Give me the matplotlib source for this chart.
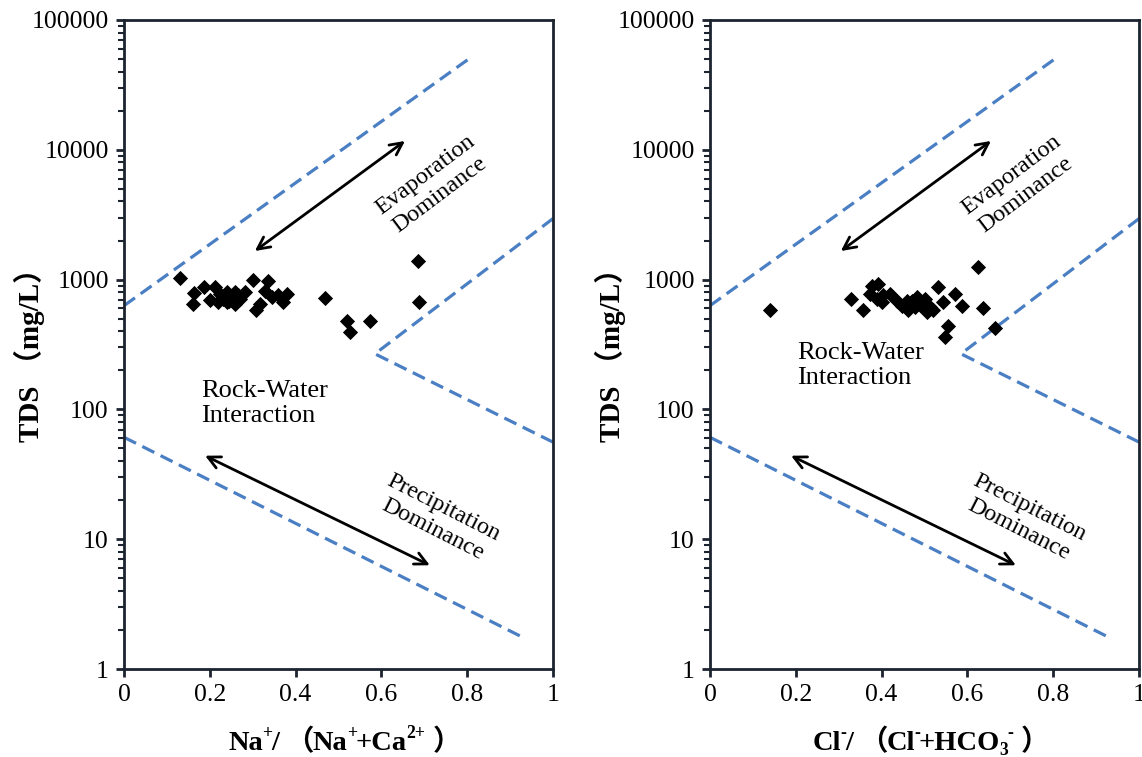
import matplotlib
matplotlib.use("Agg")
import matplotlib.pyplot as plt
from matplotlib.ticker import FixedLocator, LogLocator, NullFormatter, FixedFormatter

# ---- data ----
na_ratio = [0.13, 0.686, 0.688, 0.468, 0.519, 0.573, 0.527, 0.30, 0.336, 0.187,
            0.212, 0.162, 0.16, 0.224, 0.239, 0.259, 0.282, 0.22, 0.239, 0.259,
            0.27, 0.23, 0.329, 0.344, 0.36, 0.379, 0.371, 0.317, 0.308, 0.25,
            0.245, 0.265, 0.2]
na_tds = [1024, 1390, 669, 718, 484, 484, 393, 1000, 970, 870,
          870, 785, 650, 780, 800, 800, 800, 670, 670, 650,
          710, 710, 823, 731, 760, 780, 670, 650, 580, 740,
          690, 760, 700]

cl_ratio = [0.141, 0.328, 0.356, 0.377, 0.392, 0.373, 0.389, 0.404, 0.42, 0.40,
            0.435, 0.447, 0.459, 0.462, 0.482, 0.478, 0.493, 0.501, 0.505, 0.513,
            0.52, 0.532, 0.544, 0.571, 0.587, 0.555, 0.548, 0.625, 0.637, 0.664,
            0.47, 0.49]
cl_tds = [580, 710, 580, 900, 927, 780, 710, 760, 780, 670,
          690, 630, 690, 580, 731, 610, 650, 710, 560, 610,
          580, 870, 670, 780, 630, 443, 360, 1245, 600, 425,
          680, 640]

# Gibbs boundary lines (x, TDS)
upper_left_x = [0.0, 0.807]
upper_left_y = [630, 51000]
right_v_x = [1.0, 0.585, 1.0]
right_v_y = [2950, 268, 56]
lower_x = [0.0, 0.923]
lower_y = [61, 1.8]

evap_arrow = [(0.305, 1660), (0.655, 11700)]
prec_arrow = [(0.189, 44), (0.713, 6.3)]

y_ticks = [1, 10, 100, 1000, 10000, 100000]
y_ticklabels = ["1", "10", "100", "1000", "10000", "100000"]
x_ticks = [0, 0.2, 0.4, 0.6, 0.8, 1]
x_ticklabels = ["0", "0.2", "0.4", "0.6", "0.8", "1"]

# label pieces: (text, kind); "gap" entries are spacing in pixels
left_xlabel = [("Na", "main"), ("+", "sup"), ("/", "main"), (7, "gap"),
               ("（", "cjk"), ("Na", "main"), ("+", "sup"), ("+Ca", "main"),
               ("2+", "sup"), (9, "gap"), ("）", "cjk")]
right_xlabel = [("Cl", "main"), ("-", "sup"), ("/", "main"), (7, "gap"),
                ("（", "cjk"), ("Cl", "main"), ("-", "sup"), ("+HCO", "main"),
                ("3", "sub"), ("-", "sup"), (9, "gap"), ("）", "cjk")]

serif = ["Liberation Serif", "Noto Sans CJK SC", "DejaVu Serif"]
plt.rcParams["font.family"] = serif

fig = plt.figure(figsize=(11.42, 7.57), dpi=100)
ax1 = fig.add_axes([0.1086, 0.1162, 0.3756, 0.8574])
ax2 = fig.add_axes([0.6217, 0.1162, 0.3757, 0.8574])

line_color = "#4a7fc4"
spine_color = "#1c2430"
dash = (0, (4.2, 2.2))


def draw(ax, xs, ys, ylab_x):
    ax.set_yscale("log")
    ax.set_xlim(0, 1)
    ax.set_ylim(1, 100000)
    for lx, ly in [(upper_left_x, upper_left_y), (right_v_x, right_v_y),
                   (lower_x, lower_y)]:
        ax.plot(lx, ly, ls=dash, color=line_color, lw=2.3)
    ax.scatter(xs, ys, marker="D", s=60, color="black", zorder=3, linewidths=0)
    for a in (evap_arrow, prec_arrow):
        ax.annotate("", xy=a[1], xytext=a[0],
                    arrowprops=dict(arrowstyle="<->", color="black", lw=2,
                                    mutation_scale=22, shrinkA=0, shrinkB=0))
    ax.text(0.72, 5380, "Evaporation\nDominance", rotation=37, ha="center",
            va="center", fontsize=17.5, family=serif, linespacing=1.2,
            rotation_mode="anchor")
    ax.text(0.732, 14.3, "Precipitation\nDominance", rotation=-27, ha="center",
            va="center", fontsize=17.5, family=serif, linespacing=1.2,
            rotation_mode="anchor")
    ax.yaxis.set_major_locator(FixedLocator(y_ticks))
    ax.yaxis.set_major_formatter(FixedFormatter(y_ticklabels))
    ax.yaxis.set_minor_locator(LogLocator(base=10, subs=range(2, 10), numticks=20))
    ax.yaxis.set_minor_formatter(NullFormatter())
    ax.set_xticks(x_ticks)
    ax.set_xticklabels(x_ticklabels)
    ax.tick_params(axis="both", which="major", direction="out", length=6,
                   width=2, color=spine_color, labelsize=18.5, pad=5)
    ax.tick_params(axis="y", which="minor", direction="out", length=4,
                   width=1.5, color=spine_color)
    for s in ax.spines.values():
        s.set_linewidth(2)
        s.set_color(spine_color)
    ax.set_ylabel("TDS （mg/L）", fontsize=21, fontweight="bold", family=serif)
    ax.yaxis.set_label_coords(ylab_x, 0.495)


def rich_label(ax, pieces, size, baseline_px, dx_px=0):
    r = fig.canvas.get_renderer()
    W, H = fig.bbox.width, fig.bbox.height
    px_per_pt = fig.dpi / 72.0
    items = []
    total = 0.0
    for s, kind in pieces:
        if kind == "gap":
            total += s
            continue
        fam = ["Noto Sans CJK SC"] if kind == "cjk" else ["Liberation Serif"]
        fs = size * 0.62 if kind in ("sup", "sub") else size
        rise = 0.0
        if kind == "sup":
            rise = 0.42 * size * px_per_pt
        elif kind == "sub":
            rise = -0.18 * size * px_per_pt
        t = fig.text(0, 0, s, fontsize=fs, fontweight="bold", family=fam,
                     ha="left", va="baseline")
        w = t.get_window_extent(r).width
        items.append((t, total, rise))
        total += w - 1.0
    bb = ax.get_window_extent(r)
    x0 = (bb.x0 + bb.x1) / 2 - total / 2 + dx_px
    for t, off, rise in items:
        t.set_position(((x0 + off) / W, (baseline_px + rise) / H))


draw(ax1, na_ratio, na_tds, -0.184)
ax1.text(0.18, 111, "Rock-Water\nInteraction", fontsize=19, family=serif,
         ha="left", va="center", linespacing=1.15)

draw(ax2, cl_ratio, cl_tds, -0.196)
ax2.text(0.203, 218, "Rock-Water\nInteraction", fontsize=19, family=serif,
         ha="left", va="center", linespacing=1.15)

rich_label(ax1, left_xlabel, 20.5, 7, dx_px=6)
rich_label(ax2, right_xlabel, 20.5, 7, dx_px=6)

fig.savefig("out.png", dpi=100)
